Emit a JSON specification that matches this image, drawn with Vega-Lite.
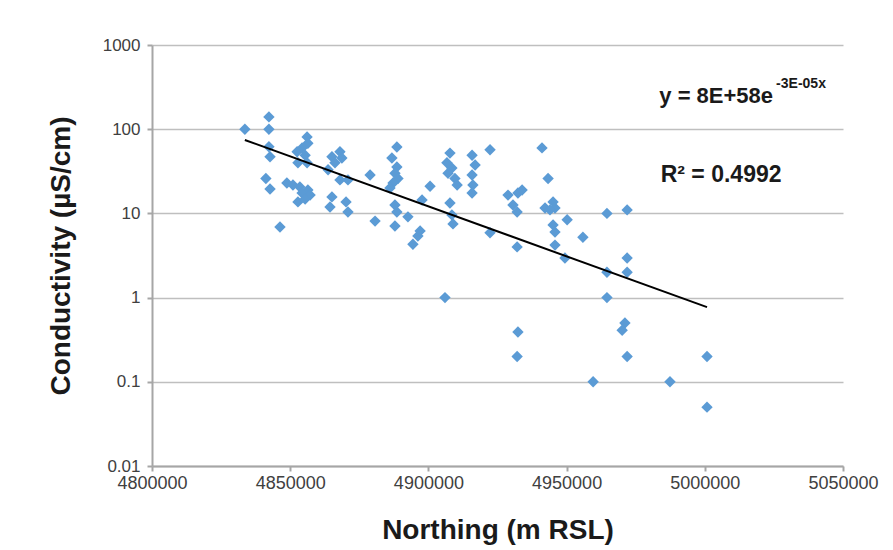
{
  "$schema": "https://vega.github.io/schema/vega-lite/v6.json",
  "width": 691,
  "height": 421,
  "autosize": {"type": "none"},
  "padding": {"left": 152, "top": 45, "right": 50, "bottom": 84},
  "background": "white",
  "config": {"view": {"stroke": null}, "font": "Liberation Sans"},
  "layer": [
    {
      "data": {"values": [
        {"northing": 4833600, "cond": 100},
        {"northing": 4842300, "cond": 140},
        {"northing": 4842300, "cond": 100},
        {"northing": 4842300, "cond": 62},
        {"northing": 4842700, "cond": 47},
        {"northing": 4841200, "cond": 26},
        {"northing": 4842700, "cond": 19.5},
        {"northing": 4846300, "cond": 6.9},
        {"northing": 4856100, "cond": 81},
        {"northing": 4856400, "cond": 68},
        {"northing": 4854300, "cond": 60},
        {"northing": 4852500, "cond": 54},
        {"northing": 4855400, "cond": 49},
        {"northing": 4852800, "cond": 40},
        {"northing": 4856100, "cond": 40},
        {"northing": 4848800, "cond": 23},
        {"northing": 4851000, "cond": 21.7},
        {"northing": 4853500, "cond": 20.6},
        {"northing": 4856400, "cond": 19},
        {"northing": 4854300, "cond": 17.5},
        {"northing": 4857200, "cond": 16.5},
        {"northing": 4852800, "cond": 13.7},
        {"northing": 4855400, "cond": 14.8},
        {"northing": 4865100, "cond": 47},
        {"northing": 4868000, "cond": 54},
        {"northing": 4868700, "cond": 45.5},
        {"northing": 4866200, "cond": 40},
        {"northing": 4863700, "cond": 33},
        {"northing": 4868000, "cond": 25},
        {"northing": 4870900, "cond": 25},
        {"northing": 4865100, "cond": 15.7},
        {"northing": 4864400, "cond": 11.9},
        {"northing": 4870200, "cond": 13.7},
        {"northing": 4870900, "cond": 10.4},
        {"northing": 4878900, "cond": 28.6},
        {"northing": 4880700, "cond": 8.1},
        {"northing": 4888600, "cond": 61.5},
        {"northing": 4886800, "cond": 45.5},
        {"northing": 4888600, "cond": 35.6},
        {"northing": 4887900, "cond": 30},
        {"northing": 4889000, "cond": 26},
        {"northing": 4887200, "cond": 23},
        {"northing": 4886100, "cond": 20},
        {"northing": 4887900, "cond": 12.6},
        {"northing": 4888600, "cond": 10.4},
        {"northing": 4887900, "cond": 7.1},
        {"northing": 4892600, "cond": 9.1},
        {"northing": 4900600, "cond": 21},
        {"northing": 4897700, "cond": 14.4},
        {"northing": 4894400, "cond": 4.3},
        {"northing": 4896200, "cond": 5.4},
        {"northing": 4897000, "cond": 6.2},
        {"northing": 4907800, "cond": 52},
        {"northing": 4906700, "cond": 40},
        {"northing": 4908500, "cond": 34.6},
        {"northing": 4907100, "cond": 30},
        {"northing": 4909600, "cond": 26},
        {"northing": 4910400, "cond": 21.7},
        {"northing": 4907800, "cond": 13.3},
        {"northing": 4908500, "cond": 9.6},
        {"northing": 4908900, "cond": 7.5},
        {"northing": 4906000, "cond": 1},
        {"northing": 4915800, "cond": 49},
        {"northing": 4916900, "cond": 37.6},
        {"northing": 4915800, "cond": 28.6},
        {"northing": 4916100, "cond": 21.7},
        {"northing": 4915800, "cond": 17.5},
        {"northing": 4922300, "cond": 57},
        {"northing": 4922300, "cond": 5.9},
        {"northing": 4928800, "cond": 16.5},
        {"northing": 4932400, "cond": 17.5},
        {"northing": 4930600, "cond": 12.6},
        {"northing": 4932100, "cond": 10.4},
        {"northing": 4933900, "cond": 19},
        {"northing": 4932100, "cond": 4},
        {"northing": 4932400, "cond": 0.39},
        {"northing": 4932100, "cond": 0.2},
        {"northing": 4941100, "cond": 60},
        {"northing": 4943300, "cond": 26},
        {"northing": 4942200, "cond": 11.6},
        {"northing": 4945100, "cond": 13.7},
        {"northing": 4945800, "cond": 11.6},
        {"northing": 4944000, "cond": 11},
        {"northing": 4950200, "cond": 8.4},
        {"northing": 4945100, "cond": 7.3},
        {"northing": 4945800, "cond": 6},
        {"northing": 4945800, "cond": 4.2},
        {"northing": 4949400, "cond": 2.95},
        {"northing": 4955900, "cond": 5.2},
        {"northing": 4959600, "cond": 0.1},
        {"northing": 4964600, "cond": 10},
        {"northing": 4964600, "cond": 2},
        {"northing": 4964600, "cond": 1},
        {"northing": 4971900, "cond": 11},
        {"northing": 4971900, "cond": 2.95},
        {"northing": 4971900, "cond": 2},
        {"northing": 4971100, "cond": 0.5},
        {"northing": 4970100, "cond": 0.41},
        {"northing": 4971900, "cond": 0.2},
        {"northing": 4987400, "cond": 0.1},
        {"northing": 5000800, "cond": 0.2},
        {"northing": 5000800, "cond": 0.05}
      ]},
      "mark": {"type": "point", "shape": "diamond", "filled": true, "size": 130, "color": "#5b9bd5", "opacity": 1},
      "encoding": {
        "x": {
          "field": "northing", "type": "quantitative",
          "scale": {"domain": [4800000, 5050000], "nice": false, "zero": false},
          "axis": {
            "title": "Northing (m RSL)",
            "values": [4800000, 4850000, 4900000, 4950000, 5000000, 5050000],
            "format": "d",
            "grid": false,
            "domainColor": "#a6a6a6", "domainWidth": 2,
            "tickColor": "#a6a6a6", "tickWidth": 2, "tickSize": 5,
            "labelFontSize": 18, "labelColor": "#404040", "labelPadding": 3,
            "labelFlush": false, "labelOverlap": false, "labelBound": false,
            "titleFontSize": 28, "titleFontWeight": "bold", "titleColor": "#1a1a1a", "titlePadding": 24
          }
        },
        "y": {
          "field": "cond", "type": "quantitative",
          "scale": {"type": "log", "domain": [0.01, 1000], "nice": false},
          "axis": {
            "title": "Conductivity (µS/cm)",
            "values": [0.01, 0.1, 1, 10, 100, 1000],
            "format": "~g",
            "grid": true, "gridColor": "#bfbfbf", "gridWidth": 1.5,
            "domainColor": "#a6a6a6", "domainWidth": 2,
            "tickColor": "#a6a6a6", "tickWidth": 2, "tickSize": 5,
            "labelFontSize": 17, "labelColor": "#404040", "labelPadding": 7,
            "labelOverlap": false, "labelBound": false, "labelFlush": false,
            "titleFontSize": 28, "titleFontWeight": "bold", "titleColor": "#1a1a1a", "titlePadding": 27
          }
        }
      }
    },
    {
      "data": {"values": [
        {"northing": 4833600, "cond": 74.5},
        {"northing": 5000800, "cond": 0.77}
      ]},
      "mark": {"type": "line", "color": "#000000", "strokeWidth": 2},
      "encoding": {
        "x": {"field": "northing", "type": "quantitative"},
        "y": {"field": "cond", "type": "quantitative"}
      }
    },
    {
      "data": {"values": [
        {"northing": 5024700, "cond": 248, "label": "y = 8E+58e"}
      ]},
      "mark": {"type": "text", "align": "right", "baseline": "middle", "fontSize": 22, "fontWeight": "bold", "color": "#1a1a1a"},
      "encoding": {
        "x": {"field": "northing", "type": "quantitative"},
        "y": {"field": "cond", "type": "quantitative"},
        "text": {"field": "label"}
      }
    },
    {
      "data": {"values": [
        {"northing": 5025800, "cond": 344, "label": "-3E-05x"}
      ]},
      "mark": {"type": "text", "align": "left", "baseline": "middle", "fontSize": 14, "fontWeight": "bold", "color": "#1a1a1a"},
      "encoding": {
        "x": {"field": "northing", "type": "quantitative"},
        "y": {"field": "cond", "type": "quantitative"},
        "text": {"field": "label"}
      }
    },
    {
      "data": {"values": [
        {"northing": 5005900, "cond": 28.6, "label": "R² = 0.4992"}
      ]},
      "mark": {"type": "text", "align": "center", "baseline": "middle", "fontSize": 23, "fontWeight": "bold", "color": "#1a1a1a"},
      "encoding": {
        "x": {"field": "northing", "type": "quantitative"},
        "y": {"field": "cond", "type": "quantitative"},
        "text": {"field": "label"}
      }
    }
  ]
}
